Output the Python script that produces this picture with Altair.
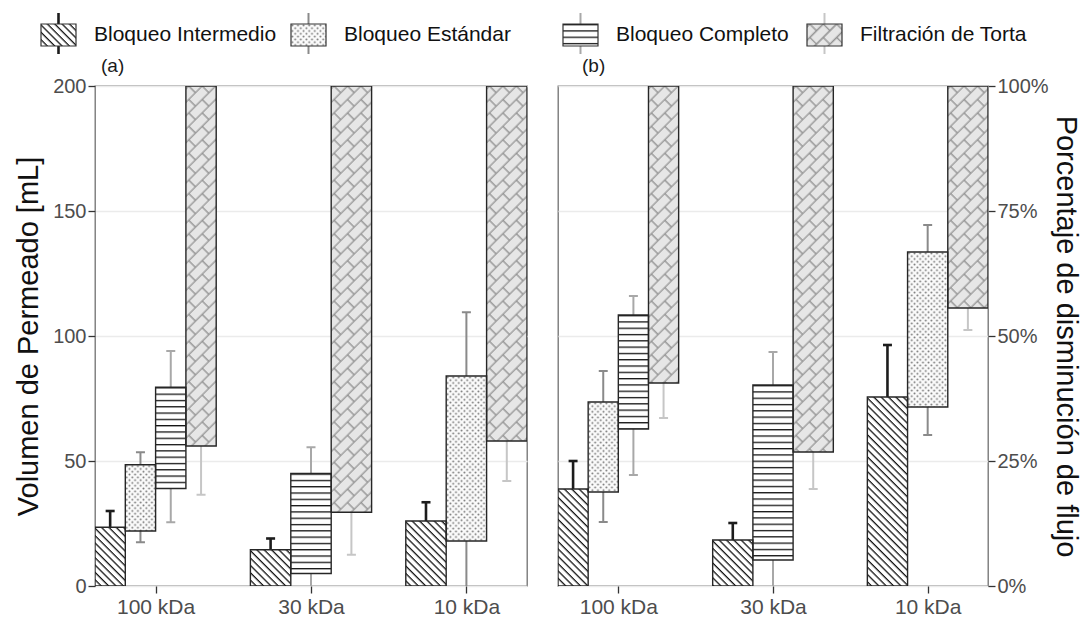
import base64

import altair as alt
import pandas as pd

# ---------------------------------------------------------------- data
CATEGORIES = ["100 kDa", "30 kDa", "10 kDa"]
TYPES = ["Bloqueo Intermedio", "Bloqueo Estándar", "Bloqueo Completo", "Filtración de Torta"]

I, E, C, T = TYPES

# (a) Volumen de permeado [mL]
VOL_CAT = ["100 kDa"] * 4 + ["30 kDa"] * 3 + ["10 kDa"] * 3
VOL_TYPE = [I, E, C, T, I, C, T, I, E, T]
VOL_LOW = [0, 22, 39, 56, 0, 5, 29.5, 0, 18, 58]
VOL_HIGH = [23.5, 48.5, 79.5, 200, 14.5, 45, 200, 26, 84, 200]
VOL_ERR_LOW = [17, 17.5, 25.5, 36.5, 10, -8, 12.5, 18.5, -8, 42]
VOL_ERR_HIGH = [30, 53.5, 94, 200, 19, 55.5, 200, 33.5, 109.5, 200]

# (b) Porcentaje de disminución de flujo [%]
FLUX_CAT = ["100 kDa"] * 4 + ["30 kDa"] * 3 + ["10 kDa"] * 3
FLUX_TYPE = [I, E, C, T, I, C, T, I, E, T]
FLUX_LOW = [0, 18.8, 31.4, 40.6, 0, 5.2, 26.8, 0, 35.8, 55.6]
FLUX_HIGH = [19.4, 36.8, 54.2, 100, 9.2, 40.2, 100, 37.8, 66.8, 100]
FLUX_ERR_LOW = [13.8, 12.8, 22.2, 33.6, 5.8, -4, 19.4, 27.4, 30.2, 51.2]
FLUX_ERR_HIGH = [25, 43, 58, 100, 12.6, 46.8, 100, 48.2, 72.2, 100]

# ---------------------------------------------------------------- styles
FONT = "Liberation Sans"
GROUP_W = 0.78          # width of a dodged group on the x scale
CAP_HALF = 0.029        # half width of the error-bar caps
PAD_L, PAD_T, PAD_R = 13, 7, 6
TITLE_SIZE = 29

ERR_COLOR = {I: "#1c1c1c", E: "#8a8a8a", C: "#a8a8a8", T: "#c6c6c6"}
ERR_WIDTH = {I: 2.6, E: 2.0, C: 2.0, T: 2.0}


def svg_fill(bg, w, h, body, transform=""):
    tf = f' patternTransform="{transform}"' if transform else ""
    svg = (
        '<svg xmlns="http://www.w3.org/2000/svg" width="100%" height="100%">'
        f'<defs><pattern id="p" patternUnits="userSpaceOnUse" width="{w}" height="{h}"{tf}>'
        f"{body}</pattern></defs>"
        f'<rect width="100%" height="100%" fill="{bg}"/>'
        '<rect width="100%" height="100%" fill="url(#p)"/></svg>'
    )
    return "data:image/svg+xml;base64," + base64.b64encode(svg.encode("utf-8")).decode("ascii")


brick = (
    '<path d="M0,2 H19 M0,11.5 H19 M2,2 V11.5 M11.5,11.5 V19 M11.5,0 V2" '
    'stroke="#8e8e8e" stroke-width="1.3" fill="none"/>'
)
PATTERN = {
    I: svg_fill("#ffffff", 10, 5.2, '<rect x="0" y="0" width="10" height="1.3" fill="#151515"/>', "rotate(45)"),
    E: svg_fill("#fbfbfb", 5.6, 5.6,
                '<circle cx="1.4" cy="1.4" r="1.0" fill="#767676"/>'
                '<circle cx="4.2" cy="4.2" r="1.0" fill="#767676"/>'),
    C: svg_fill("#ffffff", 10, 6.3, '<rect x="0" y="0" width="10" height="1.3" fill="#151515"/>'),
    T: svg_fill("#e6e6e6", 19, 19, brick, "rotate(-45)"),
}

style = pd.DataFrame({
    "tipo": TYPES,
    "img": [PATTERN[t] for t in TYPES],
    "ecolor": [ERR_COLOR[t] for t in TYPES],
    "ewidth": [ERR_WIDTH[t] for t in TYPES],
})


def build_table(cats, types, lo, hi, elo, ehi):
    df = pd.DataFrame({"cat": cats, "tipo": types, "lo": lo, "hi": hi, "elo": elo, "ehi": ehi})
    df["ci"] = df["cat"].map({c: i + 1 for i, c in enumerate(CATEGORIES)})
    df["ti"] = df["tipo"].map({t: i for i, t in enumerate(TYPES)})
    df = df.sort_values(["ci", "ti"]).reset_index(drop=True)
    df["slot"] = df.groupby("ci").cumcount()
    df["n"] = df.groupby("ci")["tipo"].transform("count")
    df["x0"] = df["ci"] - GROUP_W / 2 + df["slot"] * GROUP_W / df["n"]
    df["x1"] = df["x0"] + GROUP_W / df["n"]
    df["xc"] = (df["x0"] + df["x1"]) / 2
    df["cx0"] = df["xc"] - CAP_HALF
    df["cx1"] = df["xc"] + CAP_HALF
    return df.merge(style, on="tipo")


vol = build_table(VOL_CAT, VOL_TYPE, VOL_LOW, VOL_HIGH, VOL_ERR_LOW, VOL_ERR_HIGH)
flux = build_table(FLUX_CAT, FLUX_TYPE, FLUX_LOW, FLUX_HIGH, FLUX_ERR_LOW, FLUX_ERR_HIGH)

label_expr = "[" + ",".join(f"'{c}'" for c in CATEGORIES) + "][datum.value - 1]"


def panel(df, ymax, ystep, orient, ytitle, ylabel_expr, width, tag, tag_dx, title_pad):
    xs = alt.Scale(domain=[1 - GROUP_W / 2, len(CATEGORIES) + GROUP_W / 2], nice=False, zero=False)
    ys = alt.Scale(domain=[0, ymax], nice=False)
    x_axis = alt.Axis(values=[1, 2, 3], labelExpr=label_expr, grid=False, title=None,
                      labelPadding=3, labelFontSize=21)
    y_axis = alt.Axis(values=list(range(0, ymax + 1, ystep)), orient=orient, title=ytitle,
                      labelExpr=ylabel_expr, grid=True, gridColor="#ebebeb", gridWidth=1.6,
                      titlePadding=title_pad, labelPadding=2)

    def X(f):
        return alt.X(f"{f}:Q", scale=xs, axis=x_axis)

    def Y(f):
        return alt.Y(f"{f}:Q", scale=ys, axis=y_axis)

    base = alt.Chart(df)
    ecol = alt.Color("ecolor:N", scale=None)
    ewid = alt.StrokeWidth("ewidth:Q", scale=None)

    err = base.mark_rule(clip=True).encode(x=X("xc"), y=Y("elo"), y2="ehi:Q", color=ecol, strokeWidth=ewid)
    caps = base.transform_fold(["elo", "ehi"], as_=["end", "yv"]).mark_rule(clip=True).encode(
        x=X("cx0"), x2="cx1:Q", y=Y("yv"), color=ecol, strokeWidth=ewid)
    fill = base.mark_image(aspect=False, clip=True).encode(
        x=X("x0"), x2="x1:Q", y=Y("lo"), y2="hi:Q", url="img:N")
    outline = base.mark_rect(fillOpacity=0, stroke="#262626", strokeWidth=1.4, clip=True).encode(
        x=X("x0"), x2="x1:Q", y=Y("lo"), y2="hi:Q")

    return alt.layer(err, caps, fill, outline).properties(
        width=width, height=500,
        title=alt.TitleParams(tag, anchor="start", frame="group", dx=tag_dx, fontSize=19,
                              fontWeight="normal", color="#1a1a1a", offset=0, font=FONT),
    )


panel_a = panel(vol, 200, 50, "left", "Volumen de Permeado [mL]", "datum.value", 432, "(a)", 6, 9)
panel_b = panel(flux, 100, 25, "right", "Porcentaje de disminución de flujo",
                "datum.value + '%'", 430, "(b)", 24, 2)

# ---------------------------------------------------------------- legend
# legend coordinates are page pixels; its view starts at the left edge of panel (a)
LEG_LEFT, LEG_TOP = 97, PAD_T
LEG_W, LEG_H = 943, 47
KEY_W, KEY_H = 35, 22
LEG_KEY_X = [43, 293, 565, 809]

leg = pd.DataFrame({"tipo": TYPES, "kx": LEG_KEY_X}).merge(style, on="tipo")
leg["kx1"] = leg["kx"] + KEY_W
leg["kc"] = leg["kx"] + KEY_W / 2
leg["tx"] = leg["kx"] + KEY_W + 18
leg["ky0"] = 23
leg["ky1"] = 23 + KEY_H
leg["ly0"] = 12
leg["ly1"] = 53
leg["ty"] = 34

lx = alt.Scale(domain=[LEG_LEFT, LEG_LEFT + LEG_W], nice=False, zero=False)
ly = alt.Scale(domain=[LEG_TOP, LEG_TOP + LEG_H], reverse=True, nice=False, zero=False)
lb = alt.Chart(leg)
leg_line = lb.mark_rule().encode(
    x=alt.X("kc:Q", scale=lx, axis=None), y=alt.Y("ly0:Q", scale=ly, axis=None), y2="ly1:Q",
    color=alt.Color("ecolor:N", scale=None), strokeWidth=alt.StrokeWidth("ewidth:Q", scale=None))
leg_key = lb.mark_image(aspect=False).encode(
    x=alt.X("kx:Q", scale=lx, axis=None), x2="kx1:Q",
    y=alt.Y("ky0:Q", scale=ly, axis=None), y2="ky1:Q", url="img:N")
leg_box = lb.mark_rect(fillOpacity=0, stroke="#333333", strokeWidth=1.2).encode(
    x=alt.X("kx:Q", scale=lx, axis=None), x2="kx1:Q",
    y=alt.Y("ky0:Q", scale=ly, axis=None), y2="ky1:Q")
leg_text = lb.mark_text(align="left", baseline="middle", fontSize=21, font=FONT, color="#111111").encode(
    x=alt.X("tx:Q", scale=lx, axis=None), y=alt.Y("ty:Q", scale=ly, axis=None), text="tipo:N")

legend = alt.layer(leg_line, leg_key, leg_box, leg_text).properties(
    width=LEG_W, height=LEG_H, view=alt.ViewBackground(stroke="transparent"))

chart = (
    alt.vconcat(legend, alt.hconcat(panel_a, panel_b, spacing=29), spacing=0)
    .properties(padding={"left": PAD_L, "top": PAD_T, "right": PAD_R, "bottom": 0}, background="white")
    .configure(font=FONT)
    .configure_view(stroke="#707070", strokeWidth=1.3)
    .configure_axis(domain=False, tickColor="#333333", tickWidth=1.3, tickSize=7,
                    labelColor="#4d4d4d", labelFontSize=20, labelFont=FONT,
                    titleFontSize=TITLE_SIZE, titleFontWeight="normal", titleColor="#111111",
                    titleFont=FONT)
)

chart.save("out.html", embed_options={"renderer": "svg", "actions": False})
